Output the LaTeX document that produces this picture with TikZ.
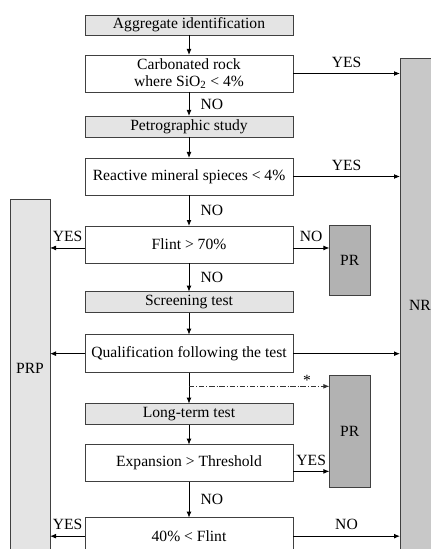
\documentclass[tikz,border=0pt]{standalone}
\usepackage{fontspec}
\setmainfont{Liberation Serif}
\usepackage{tikz}
\usetikzlibrary{arrows.meta,positioning,calc}

\definecolor{boxgrey}{HTML}{E4E4E4}
\definecolor{nrgrey}{HTML}{C8C8C8}
\definecolor{prgrey}{HTML}{B2B2B2}

\begin{document}
\begin{tikzpicture}[x=0.75pt,y=-0.75pt,>={Latex[length=4.5pt,width=3.6pt]},line width=0.6pt,
                    font=\fontsize{11.7}{12.8}\selectfont,
                    stage box/.style={draw=black!75, fill=boxgrey, minimum width=156pt, minimum height=15.75pt, inner sep=0pt, outer sep=0pt},
                    test box/.style={draw=black!75, fill=white, minimum width=156pt, minimum height=27.75pt, inner sep=0pt, outer sep=0pt, align=center},
                    result box/.style={draw=black!75, fill=prgrey, minimum width=30.5pt, inner sep=0pt, outer sep=0pt}]

\useasboundingbox (0,0) rectangle (431,549);
\clip (0,0) rectangle (431,549);

% side bars
\node[draw=black!75, fill=boxgrey, outer sep=0pt, minimum width=30pt, minimum height=315.75pt] (PRP) at (30,409.5) {};
\node[draw=black!75, fill=nrgrey, outer sep=0pt, minimum width=52.5pt, minimum height=421.5pt] (NR) at (435,339) {};
\node (PRPtxt) at (30,368) {PRP};
\node (NRtxt) at (420,305) {NR};

% main column
\node[stage box, minimum height=15pt] (A) at (189,25) {Aggregate identification};
\node[test box] (B) [below=15pt of A]    {Carbonated rock\\where SiO\textsubscript{2} < 4\%};
\node[stage box] (C) [below=18pt of B]   {Petrographic study};
\node[test box] (D) [below=15.75pt of C] {Reactive mineral spieces < 4\%};
\node[test box] (E) [below=23.25pt of D] {Flint > 70\%};
\node[stage box] (F) [below=21.5pt of E] {Screening test};
\node[test box, minimum height=28.5pt] (G) [below=16.5pt of F] {Qualification following the test};
\node[stage box] (H) [below=23.25pt of G] {Long-term test};
\node[test box] (I) [below=15pt of H]    {Expansion > Threshold};
\node[test box] (J) [below=27pt of I]    {40\% < Flint};

% results
\node[result box, minimum height=52.5pt] (PR1) at (349.75,260) {PR};
\node[result box, minimum height=84pt] (PR2) at (349.75,431) {PR};

\coordinate (split) at ($(G.south)!0.44!(H.north)$);

\path (A) edge[->] (B)
      (B) edge[->] node[right=5pt] {NO} (C)
      (C) edge[->] (D)
      (D) edge[->] node[right=5pt] {NO} (E)
      (E) edge[->] node[right=5pt] {NO} (F)
      (F) edge[->] (G)
      (G) edge[->] (H)
      (H) edge[->] (I)
      (I) edge[->] node[right=5pt] {NO} (J);

\path (B) edge[->] node[above=1pt] {YES} (B -| NR.west)
      (D) edge[->] node[above=1pt] {YES} (D -| NR.west)
      (G) edge[->] (G -| NR.west)
      (J) edge[->] node[above=1pt] {NO} (J -| NR.west);

\path (G) edge[->] (G -| PRP.east)
      ([yshift=-2.6pt]E.west) edge[->] node[above=1pt] {YES} ([yshift=-2.6pt]E.west -| PRP.east)
      (J) edge[->] node[above=1pt] {YES} (J -| PRP.east);

\path ([yshift=-2.6pt]E.east) edge[->] node[above=1pt] {NO} ([yshift=-2.6pt]E.east -| PR1.west)
      ([yshift=-6.15pt]I.east) edge[->] node[above=1pt] {YES} ([yshift=-6.15pt]I.east -| PR2.west)
      (split) edge[->, black!80, dash pattern=on 4pt off 1.5pt on 0.6pt off 1.5pt]
              node[pos=0.84, above=-3pt, black] {*} (split -| PR2.west);

\end{tikzpicture}
\end{document}
